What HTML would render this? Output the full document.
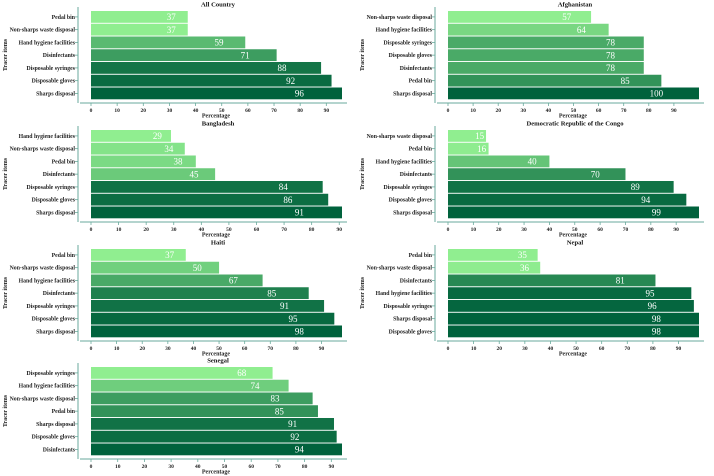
<!DOCTYPE html>
<html><head><meta charset="utf-8"><style>
html,body{margin:0;padding:0;background:#fff;}
svg{display:block;font-family:"Liberation Serif","DejaVu Serif",serif;}
</style></head><body>
<svg id="chart" width="714" height="476" viewBox="0 0 714 476"></svg>
<script>
const panelTitles = ["All Country","Afghanistan","Bangladesh","Democratic Republic of the Congo","Haiti","Nepal","Senegal"];
const allCountryItems = ["Pedal bin","Non-sharps waste disposal","Hand hygiene facilities","Disinfectants","Disposable syringes","Disposable gloves","Sharps disposal"];
const allCountryValues = [37,37,59,71,88,92,96];
const afghanistanItems = ["Non-sharps waste disposal","Hand hygiene facilities","Disposable syringes","Disposable gloves","Disinfectants","Pedal bin","Sharps disposal"];
const afghanistanValues = [57,64,78,78,78,85,100];
const bangladeshItems = ["Hand hygiene facilities","Non-sharps waste disposal","Pedal bin","Disinfectants","Disposable syringes","Disposable gloves","Sharps disposal"];
const bangladeshValues = [29,34,38,45,84,86,91];
const drcItems = ["Non-sharps waste disposal","Pedal bin","Hand hygiene facilities","Disinfectants","Disposable syringes","Disposable gloves","Sharps disposal"];
const drcValues = [15,16,40,70,89,94,99];
const haitiItems = ["Pedal bin","Non-sharps waste disposal","Hand hygiene facilities","Disinfectants","Disposable syringes","Disposable gloves","Sharps disposal"];
const haitiValues = [37,50,67,85,91,95,98];
const nepalItems = ["Pedal bin","Non-sharps waste disposal","Disinfectants","Hand hygiene facilities","Disposable syringes","Sharps disposal","Disposable gloves"];
const nepalValues = [35,36,81,95,96,98,98];
const senegalItems = ["Disposable syringes","Hand hygiene facilities","Non-sharps waste disposal","Pedal bin","Sharps disposal","Disposable gloves","Disinfectants"];
const senegalValues = [68,74,83,85,91,92,94];
const tickValues = [0,10,20,30,40,50,60,70,80,90];

const panels = [
 {title:panelTitles[0],items:allCountryItems,values:allCountryValues,ox:0,oy:0},
 {title:panelTitles[1],items:afghanistanItems,values:afghanistanValues,ox:357,oy:0},
 {title:panelTitles[2],items:bangladeshItems,values:bangladeshValues,ox:0,oy:119},
 {title:panelTitles[3],items:drcItems,values:drcValues,ox:357,oy:119},
 {title:panelTitles[4],items:haitiItems,values:haitiValues,ox:0,oy:238},
 {title:panelTitles[5],items:nepalItems,values:nepalValues,ox:357,oy:238},
 {title:panelTitles[6],items:senegalItems,values:senegalValues,ox:0,oy:356}
];
const svg = document.getElementById('chart');
const NS = "http://www.w3.org/2000/svg";
function mk(tag, attrs, parent){const e=document.createElementNS(NS,tag);for(const k in attrs)e.setAttribute(k,attrs[k]);parent.appendChild(e);return e;}
const light=[144,238,144], dark=[0,98,60];
function color(t){const c=light.map((l,i)=>Math.round(l+(dark[i]-l)*t));return `rgb(${c[0]},${c[1]},${c[2]})`;}
const axisColor="#6aaa9c";
panels.forEach((p,pi)=>{
  const g=mk('g',{transform:`translate(${p.ox},${p.oy})`},svg);
  
  
  const maxV=Math.max(...p.values), minV=Math.min(...p.values);
  const x0=91, x1=342;
  const xs=v=>x0+(v/maxV)*(x1-x0);
  const barTop=11, pitch=12.75, bh=11.8;
  const ys=i=>barTop+i*pitch;
  const t=mk('text',{x:218,y:6.5,'text-anchor':'middle','font-size':6.6,'font-weight':'bold',fill:'#111'},g);
  t.textContent=p.title;
  
  
  const ya=mk('line',{x1:78,y1:7,x2:78,y2:103,stroke:axisColor,'stroke-width':1},g);
  
  
  const xa=mk('line',{x1:80,y1:103,x2:347,y2:103,stroke:axisColor,'stroke-width':1},g);
  
  
  tickValues.forEach(v=>{
    if(v>maxV) return;
    mk('line',{x1:xs(v),y1:103,x2:xs(v),y2:106,stroke:axisColor,'stroke-width':0.8},g);
    const tl=mk('text',{x:xs(v),y:112,'text-anchor':'middle','font-size':5.5,'font-weight':'bold',fill:'#222'},g);
    tl.textContent=v;
    
    
  });
  const xt=mk('text',{x:216,y:117.5,'text-anchor':'middle','font-size':6,'font-weight':'bold',fill:'#222'},g);
  xt.textContent='Percentage';
  
  
  const yt=mk('text',{x:0,y:0,transform:'translate(7,55) rotate(-90)','text-anchor':'middle','font-size':6,'font-weight':'bold',fill:'#222'},g);
  yt.textContent='Tracer items';
  
  
  p.values.forEach((v,i)=>{
    const y=ys(i), tt=(maxV===minV)?1:(v-minV)/(maxV-minV);
    const r=mk('rect',{x:x0,y:y,width:xs(v)-x0,height:bh,fill:color(tt)},g);
    
    
    const vl=mk('text',{x:xs(v*0.83),y:y+bh/2+3.2,'text-anchor':'middle','font-size':9,fill:'#fff'},g);
    vl.textContent=v;
    
    
    mk('line',{x1:75,y1:y+bh/2,x2:78,y2:y+bh/2,stroke:axisColor,'stroke-width':0.8},g);
    const cl=mk('text',{x:75,y:y+bh/2+2,'text-anchor':'end','font-size':5.8,'font-weight':'bold',fill:'#222'},g);
    cl.textContent=p.items[i];
    
    
  });
});
</script>
</body></html>
